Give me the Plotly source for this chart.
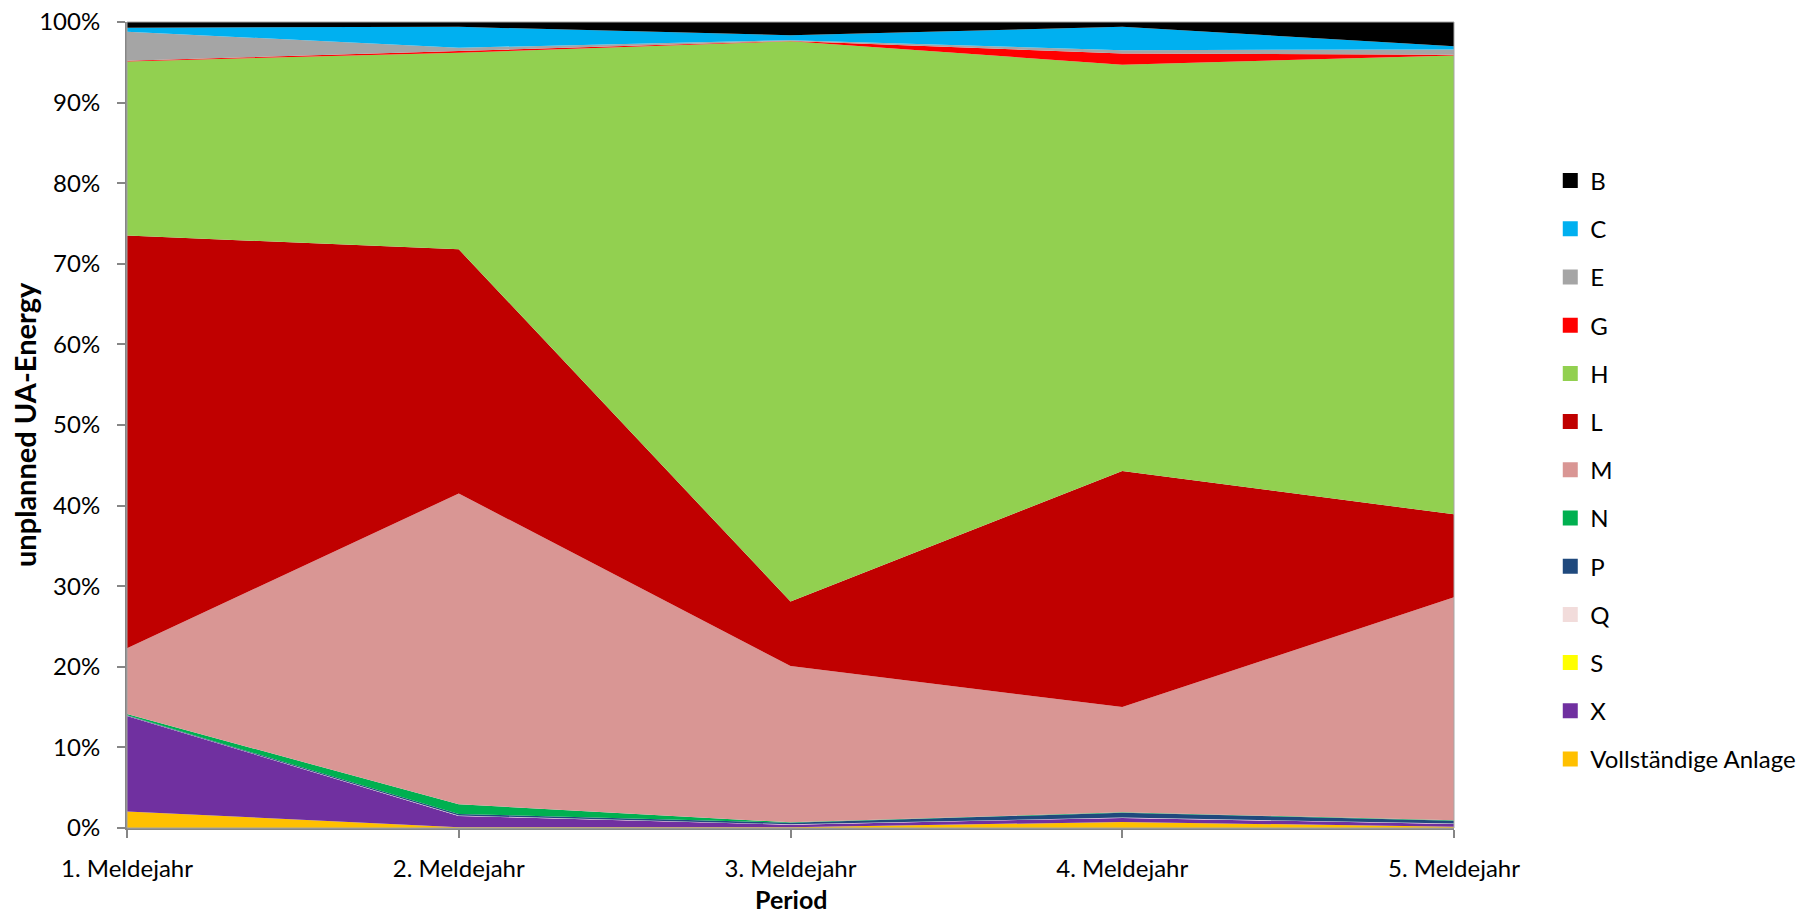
import plotly.graph_objects as go

categories = ["1. Meldejahr", "2. Meldejahr", "3. Meldejahr", "4. Meldejahr", "5. Meldejahr"]

# shares (%) per series, bottom to top of the stack
vollstaendige_anlage = [2.05, 0.10, 0.10, 0.75, 0.15]
x_vals = [11.85, 1.40, 0.30, 0.50, 0.35]
s_vals = [0.0, 0.0, 0.0, 0.0, 0.0]
q_vals = [0.03, 0.05, 0.05, 0.05, 0.05]
p_vals = [0.05, 0.20, 0.20, 0.60, 0.35]
n_vals = [0.15, 1.20, 0.05, 0.05, 0.05]
m_vals = [8.17, 38.55, 19.40, 13.05, 27.65]
l_vals = [51.2, 30.3, 8.0, 29.3, 10.3]
h_vals = [21.6, 24.4, 69.5, 50.4, 56.9]
g_vals = [0.10, 0.20, 0.05, 1.40, 0.10]
e_vals = [3.60, 0.40, 0.10, 0.40, 0.65]
c_vals = [0.50, 2.60, 0.60, 2.90, 0.40]
b_vals = [0.70, 0.60, 1.65, 0.60, 3.00]

series_names = ["Vollständige Anlage", "X", "S", "Q", "P", "N", "M", "L", "H", "G", "E", "C", "B"]
series_values = [vollstaendige_anlage, x_vals, s_vals, q_vals, p_vals, n_vals, m_vals,
                 l_vals, h_vals, g_vals, e_vals, c_vals, b_vals]
series_colors = ["#FFC000", "#7030A0", "#FFFF00", "#F2DCDB", "#1F497D", "#00B050", "#D99694",
                 "#C00000", "#92D050", "#FF0000", "#A5A5A5", "#00B0F0", "#000000"]

FONT = "Lato, 'Open Sans', sans-serif"
FS_TICK = 24
FS_LEG = 24

fig = go.Figure()
for name, vals, col in zip(series_names, series_values, series_colors):
    fig.add_trace(go.Scatter(
        x=categories, y=vals, name=name, mode="none",
        stackgroup="one", groupnorm="percent",
        fillcolor=col, line=dict(width=0),
        showlegend=False, hoverinfo="x+y+name",
    ))

# legend entries with square swatches, top to bottom B ... Vollständige Anlage
for name, col in zip(series_names[::-1], series_colors[::-1]):
    fig.add_trace(go.Scatter(
        x=[None], y=[None], mode="markers", name=name, legendgroup=name,
        marker=dict(symbol="square", size=15, color=col, line=dict(width=0)),
        showlegend=True,
    ))

W, H = 1806, 913
L, R, T, B = 127, 352, 22, 85

fig.update_layout(
    width=W, height=H,
    margin=dict(l=L, r=R, t=T, b=B, autoexpand=False),
    paper_bgcolor="white", plot_bgcolor="white",
    font=dict(family=FONT, size=FS_TICK, color="black"),
    showlegend=True,
    legend=dict(
        xref="container", yref="container",
        x=0.8584, xanchor="left", y=0.8264, yanchor="top",
        traceorder="grouped", tracegroupgap=14,
        maxheight=800,
        font=dict(family=FONT, size=FS_LEG, color="black"),
        bgcolor="rgba(0,0,0,0)",
    ),
    xaxis=dict(
        type="category", range=[0, 4],
        showgrid=False, zeroline=False,
        showline=True, linecolor="#868686", linewidth=2,
        ticks="outside", ticklen=8, tickwidth=2, tickcolor="#868686",
        tickfont=dict(family=FONT, size=FS_TICK, color="black"),
        ticklabelstandoff=10,
    ),
    yaxis=dict(
        range=[0, 100], dtick=10, ticksuffix="%",
        showgrid=False, zeroline=False,
        showline=True, linecolor="#868686", linewidth=2,
        ticks="outside", ticklen=8, tickwidth=2, tickcolor="#868686",
        tickfont=dict(family=FONT, size=FS_TICK, color="black"),
        ticklabelstandoff=12,
    ),
    shapes=[dict(type="rect", xref="paper", yref="paper", x0=0, x1=1, y0=0, y1=1,
                 line=dict(color="#A6A6A6", width=1), layer="above")],
    annotations=[
        dict(text="<b>unplanned UA-Energy</b>", xref="paper", yref="paper", x=0, y=0.5,
             xanchor="center", yanchor="middle", xshift=-103, textangle=-90, showarrow=False,
             font=dict(family=FONT, size=29, color="black")),
        dict(text="<b>Period</b>", xref="paper", yref="paper", x=0.5, y=0,
             xanchor="center", yanchor="middle", yshift=-71, showarrow=False,
             borderpad=0, borderwidth=0,
             font=dict(family=FONT, size=25, color="black")),
    ],
)

fig.write_html("out.html")
